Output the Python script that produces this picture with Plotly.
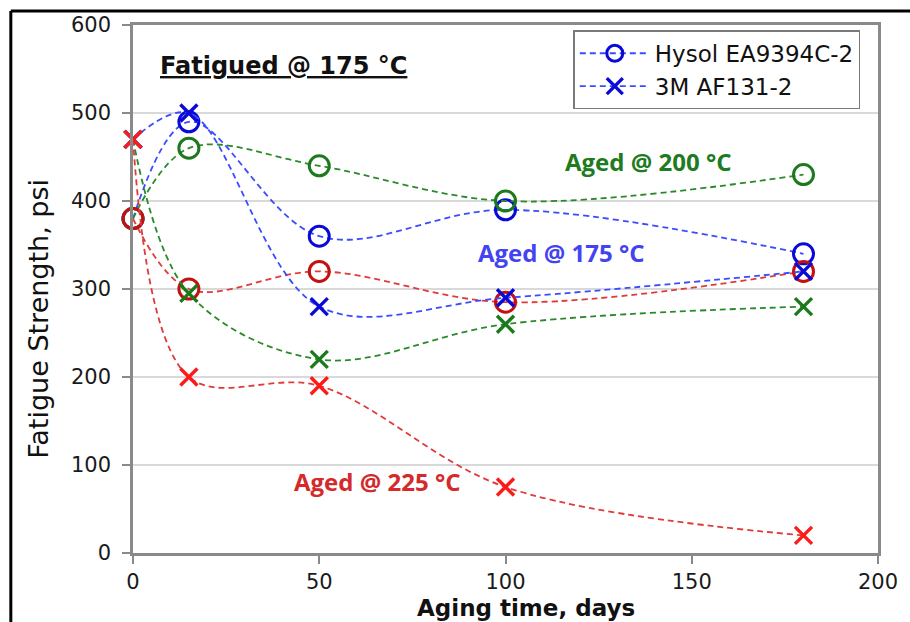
import plotly.graph_objects as go

# Aging time (days)
days = [0, 15, 50, 100, 180]

# Fatigue strength (psi) — Hysol EA9394C-2 (circles) and 3M AF131-2 (crosses)
hysol_175 = [380, 490, 360, 390, 340]
hysol_200 = [380, 460, 440, 400, 430]
hysol_225 = [380, 300, 320, 285, 320]
af131_175 = [470, 500, 280, 290, 320]
af131_200 = [470, 295, 220, 260, 280]
af131_225 = [470, 200, 190, 75, 20]

x_ticks = [0, 50, 100, 150, 200]
y_ticks = [0, 100, 200, 300, 400, 500, 600]

BLUE_LINE, BLUE_MK = "#3a4cff", "#0a0ad8"
GREEN_LINE, GREEN_MK = "#2a8a2a", "#1b7a1b"
RED_LINE, RED_CIRC, RED_X = "#e03a3a", "#c41010", "#ff1a1a"

SANS = "DejaVu Sans, Arial"

fig = go.Figure()


def add_series(y, name, line_col, mk_col, symbol, show):
    circle = symbol == "circle-open"
    fig.add_trace(go.Scatter(
        x=days, y=y, name=name, mode="lines+markers",
        showlegend=show, cliponaxis=False,
        line=dict(color=line_col, width=1.8, dash="6px,4px",
                  shape="spline", smoothing=1.0),
        marker=dict(symbol=symbol,
                    size=20 if circle else 17,
                    color=mk_col,
                    line=dict(color=mk_col, width=3 if circle else 3.4)),
    ))


add_series(hysol_175, "Hysol EA9394C-2", BLUE_LINE, BLUE_MK, "circle-open", True)
add_series(hysol_200, "Hysol 200", GREEN_LINE, GREEN_MK, "circle-open", False)
add_series(hysol_225, "Hysol 225", RED_LINE, RED_CIRC, "circle-open", False)
add_series(af131_200, "AF131 200", GREEN_LINE, GREEN_MK, "x-thin-open", False)
add_series(af131_175, "3M AF131-2", BLUE_LINE, BLUE_MK, "x-thin-open", True)
add_series(af131_225, "AF131 225", RED_LINE, RED_X, "x-thin-open", False)

axis_common = dict(
    showline=True, linecolor="#8a8a8a", linewidth=2.5, mirror=True,
    ticks="outside", ticklen=8, tickwidth=2, tickcolor="#8a8a8a",
    tickfont=dict(family=SANS, size=21, color="#1a1a1a"),
    zeroline=False,
)

fig.update_xaxes(range=[0, 200], tickvals=x_ticks, showgrid=False,
                 ticklabelstandoff=0, **axis_common)
fig.update_yaxes(range=[0, 600], tickvals=y_ticks, showgrid=True,
                 gridcolor="#d9d9d9", gridwidth=1.5,
                 ticklabelstandoff=7, **axis_common)

annotations = [
    # axis titles
    dict(x=-0.128, y=0.443, xref="paper", yref="paper", textangle=-90,
         text="Fatigue Strength, psi",
         font=dict(family=SANS, size=27, color="#111")),
    dict(x=0.527, y=-0.105, xref="paper", yref="paper",
         text="<b>Aging time, days</b>",
         font=dict(family=SANS, size=23, color="#111")),
    # chart heading
    dict(x=0.033, y=0.923, xref="paper", yref="paper", xanchor="left",
         text="<b><u>Fatigued @ 175 °C</u></b>",
         font=dict(family=SANS, size=24, color="#111")),
    # aging temperature labels
    dict(x=138.3, y=445, text="<b>Aged @ 200 °C</b>",
         font=dict(family="Open Sans", size=24, color="#1e7b1e")),
    dict(x=114.8, y=342, text="<b>Aged @ 175 °C</b>",
         font=dict(family="Open Sans", size=24, color="#4343f0")),
    dict(x=65.5, y=81, text="<b>Aged @ 225 °C</b>",
         font=dict(family="Open Sans", size=24, color="#d42a2a")),
]
for a in annotations:
    a.setdefault("showarrow", False)
    a.setdefault("xanchor", "center")
    a.setdefault("yanchor", "middle")
fig.update_layout(annotations=annotations)

# Outer frame along the left and top edges
fig.add_shape(type="line", xref="paper", yref="paper",
              x0=-0.164, x1=1.05, y0=1.0265, y1=1.0265,
              line=dict(color="black", width=3))
fig.add_shape(type="line", xref="paper", yref="paper",
              x0=-0.164, x1=-0.164, y0=-0.15, y1=1.0265,
              line=dict(color="black", width=3))

fig.update_layout(
    width=910, height=622,
    margin=dict(l=133, r=26, t=25, b=69),
    paper_bgcolor="white", plot_bgcolor="white",
    showlegend=True,
    legend=dict(x=0.591, y=0.99, xanchor="left", yanchor="top",
                bgcolor="white", bordercolor="#7a7a7a", borderwidth=1.5,
                font=dict(family=SANS, size=23, color="#111"),
                tracegroupgap=0, itemwidth=70),
)

fig.write_html("out.html")
